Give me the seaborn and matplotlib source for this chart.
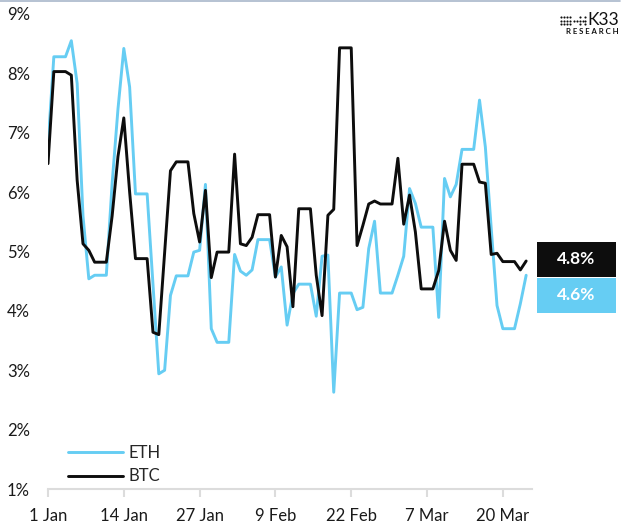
import numpy as np
import pandas as pd
import matplotlib
matplotlib.use("Agg")
import matplotlib.pyplot as plt
import matplotlib.transforms as mtransforms
from matplotlib.patches import Rectangle
from matplotlib.lines import Line2D
import seaborn as sns

# Daily values, % (1 Jan onward)
eth = [6.78, 8.28, 8.28, 8.28, 8.55, 7.83, 5.6, 4.54, 4.6, 4.6,
       4.6, 6.15, 7.4, 8.42, 7.77, 5.97, 5.97, 5.97, 4.45, 2.94,
       3.0, 4.26, 4.59, 4.59, 4.59, 4.99, 5.02, 6.13, 3.70, 3.47,
       3.47, 3.47, 4.95, 4.67, 4.60, 4.69, 5.20, 5.20, 5.20, 4.57,
       4.74, 3.76, 4.29, 4.45, 4.45, 4.45, 3.91, 4.92, 4.94, 2.63,
       4.30, 4.30, 4.30, 4.02, 4.06, 5.05, 5.51, 4.30, 4.30, 4.30,
       4.6, 4.92, 6.06, 5.81, 5.41, 5.41, 5.41, 3.89, 6.23, 5.92,
       6.13, 6.72, 6.72, 6.72, 7.55, 6.76, 5.4, 4.09, 3.70, 3.70,
       3.70, 4.12, 4.6]
btc = [6.48, 8.03, 8.03, 8.03, 7.97, 6.2, 5.13, 5.02, 4.82, 4.82,
       4.82, 5.6, 6.6, 7.25, 6.0, 4.88, 4.88, 4.88, 3.64, 3.60,
       4.98, 6.36, 6.51, 6.51, 6.51, 5.64, 5.16, 6.03, 4.56, 4.99,
       4.99, 4.99, 6.64, 5.13, 5.10, 5.24, 5.62, 5.62, 5.62, 4.57,
       5.27, 5.08, 4.07, 5.72, 5.72, 5.72, 4.6, 3.92, 5.61, 5.71,
       8.43, 8.43, 8.43, 5.1, 5.44, 5.80, 5.85, 5.80, 5.80, 5.80,
       6.57, 5.46, 5.95, 5.33, 4.37, 4.37, 4.37, 4.68, 5.51, 5.02,
       4.85, 6.47, 6.47, 6.47, 6.17, 6.15, 4.95, 4.97, 4.83, 4.83,
       4.83, 4.69, 4.84]

start = pd.Timestamp("2023-01-01")
dates = pd.date_range(start, periods=len(btc), freq="D")
tick_dates = pd.date_range(start, periods=7, freq="13D")
tick_labels = [f"{d.day} {d:%b}" for d in tick_dates]
y_ticks = list(range(1, 10))
y_labels = [f"{v}%" for v in y_ticks]

assets = ["ETH", "BTC"]
palette = {"ETH": "#66cdf3", "BTC": "#0d0d0d"}

df = pd.DataFrame({
    "date": np.concatenate([dates, dates]),
    "asset": ["ETH"] * len(eth) + ["BTC"] * len(btc),
    "value": eth + btc,
})

sns.set_theme(style="white")
plt.rcParams["font.family"] = ["Lato", "DejaVu Sans"]

W, H = 623, 526
fig = plt.figure(figsize=(W / 100, H / 100), dpi=100)
ax = fig.add_axes([48 / W, 1 - 489 / H, 484 / W, 475 / H])

sns.lineplot(data=df, x="date", y="value", hue="asset", hue_order=assets,
             palette=palette, linewidth=2.1, ax=ax)

ax.set_xlim(start, start + pd.Timedelta(days=83))
ax.set_ylim(1, 9)
ax.set_xlabel("")
ax.set_ylabel("")
ax.set_xticks(tick_dates)
ax.set_xticklabels(tick_labels)
ax.set_yticks(y_ticks)
ax.set_yticklabels(y_labels)

for side in ["top", "right", "left"]:
    ax.spines[side].set_visible(False)
ax.spines["bottom"].set_color("#dcdcdc")
ax.spines["bottom"].set_linewidth(1.5)
ax.tick_params(axis="x", length=6, width=1.5, color="#dcdcdc", pad=8,
               labelsize=12, labelcolor="#1a1a1a", bottom=True)
ax.tick_params(axis="y", length=0, pad=13, labelsize=12, labelcolor="#1a1a1a")
ax.grid(False)

leg = ax.legend(loc="lower left", bbox_to_anchor=(0.01, -0.022), frameon=False,
                fontsize=12, handlelength=3.3, handletextpad=0.35,
                labelspacing=0.45)
for line in leg.get_lines():
    line.set_linewidth(2.1)

# Last-value tags at the right edge
trans = mtransforms.blended_transform_factory(ax.transAxes, ax.transData)
box_x, box_w, box_h = 1.0103, 0.163, 0.59
btc_center = btc[-1] + 0.03
eth_center = btc_center - box_h - 0.02
for center, value, key in [(btc_center, btc[-1], "BTC"), (eth_center, eth[-1], "ETH")]:
    ax.add_patch(Rectangle((box_x, center - box_h / 2), box_w, box_h,
                           transform=trans, facecolor=palette[key],
                           edgecolor="none", clip_on=False))
    ax.text(box_x + box_w / 2, center, f"{value:.1f}%", transform=trans,
            ha="center", va="center", color="white", fontsize=12.5,
            fontweight="bold", clip_on=False)

# Brand mark
fig.text(619 / W, 1 - 20 / H, "K33", ha="right", va="center",
         fontsize=12.5, color="#111111")
fig.text(619 / W, 1 - 31 / H, "R E S E A R C H", ha="right", va="center",
         fontsize=5.6, fontweight="bold", color="#111111")
lax = fig.add_axes([560 / W, 1 - 26 / H, 27 / W, 11 / H])
lax.set_axis_off()
gx, gy = np.meshgrid(np.arange(4), np.arange(3))
lax.scatter(gx.ravel(), gy.ravel(), s=2.4, color="#111111", linewidths=0)
sx = np.array([4.6, 5.6, 6.6, 6.6, 6.6, 7.6, 8.6, 8.6, 8.6])
sy = np.array([1, 1, 0, 1, 2, 1, 0, 1, 2])
lax.scatter(sx, sy, s=2.4, color="#111111", linewidths=0)
lax.set_xlim(-0.5, 9.2)
lax.set_ylim(-0.5, 2.5)

fig.add_artist(Line2D([0, 620 / W], [1 - 1 / H, 1 - 1 / H],
                      transform=fig.transFigure, color="#a9b8cb", lw=1.2))

fig.savefig("out.png", dpi=100)
